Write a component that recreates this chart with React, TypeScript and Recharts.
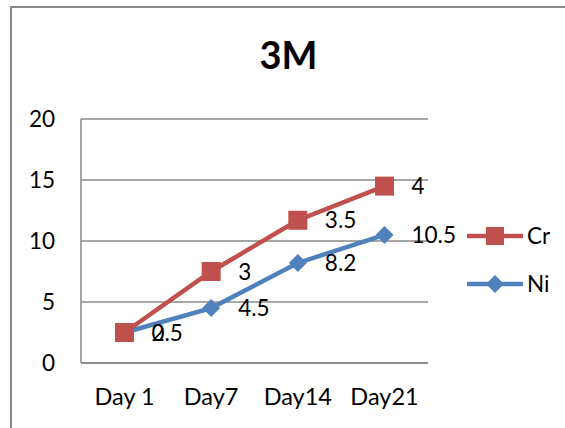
import React from 'react';
import { LineChart, Line, XAxis, YAxis, CartesianGrid, LabelList } from 'recharts';

const categories = ['Day 1', 'Day7', 'Day14', 'Day21'];
const crValues = [2.5, 7.5, 11.7, 14.5];
const niValues = [2.5, 4.5, 8.2, 10.5];
const crLabels = ['0', '3', '3.5', '4'];
const niLabels = ['2.5', '4.5', '8.2', '10.5'];
const yTicks = [0, 5, 10, 15, 20];

const RED = '#C0504D';
const BLUE = '#4F81BD';
const GRID = '#888888';
const FONT = 'Lato, "Open Sans", sans-serif';

const data = categories.map((c, i) => ({ name: c, Cr: crValues[i], Ni: niValues[i], crL: crLabels[i], niL: niLabels[i] }));

const SquareDot = (props: any) => {
  const { cx, cy } = props;
  if (cx == null || cy == null) return null;
  return <rect x={cx - 9.5} y={cy - 9.5} width={19} height={19} fill={RED} />;
};

const DiamondDot = (props: any) => {
  const { cx, cy } = props;
  if (cx == null || cy == null) return null;
  const r = 9;
  return <polygon points={`${cx},${cy - r} ${cx + r},${cy} ${cx},${cy + r} ${cx - r},${cy}`} fill={BLUE} />;
};

const makeLabel = (labels: string[]) => (props: any) => {
  const { x, y, index } = props;
  return (
    <text x={x + 27} y={y} dy="0.36em" fontSize={22.5} fontFamily={FONT} fill="#000">
      {labels[index]}
    </text>
  );
};

const LegendBox = () => (
  <svg width={565} height={428} style={{ position: 'absolute', left: 0, top: 0 }}>
    <line x1={467} y1={236} x2={523} y2={236} stroke={RED} strokeWidth={4.5} />
    <rect x={486} y={227} width={18} height={18} fill={RED} />
    <text x={527} y={236} dy="0.36em" fontSize={22.5} fontFamily={FONT} fill="#000">Cr</text>
    <line x1={467} y1={284} x2={523} y2={284} stroke={BLUE} strokeWidth={4.5} />
    <polygon points="495,275 504,284 495,293 486,284" fill={BLUE} />
    <text x={527} y={284} dy="0.36em" fontSize={22.5} fontFamily={FONT} fill="#000">Ni</text>
  </svg>
);

export default function App() {
  return (
    <div style={{ position: 'absolute', left: 0, top: 0, width: 565, height: 428, overflow: 'hidden', background: '#fff' }}>
      <div style={{ position: 'absolute', left: 10, top: 6, width: 700, height: 600, borderLeft: `2px solid ${GRID}`, borderTop: `2px solid ${GRID}` }} />
      <div style={{ position: 'absolute', left: 0, top: 27, width: 565, textAlign: 'center', fontFamily: FONT, fontWeight: 700, fontSize: 38, lineHeight: '54px', paddingLeft: 12, boxSizing: 'border-box' }}>
        3M
      </div>
      <LegendBox />
      <div style={{ position: 'absolute', left: 0, top: 0 }}>
        <LineChart width={565} height={428} data={data} margin={{ top: 119, right: 137, bottom: 64, left: 80 }}>
          <CartesianGrid vertical={false} stroke={GRID} strokeWidth={1.5} />
          <XAxis
            dataKey="name"
            height={1}
            padding={{ left: 43.5, right: 43.5 }}
            tickLine={false}
            tickSize={0}
            tickMargin={25}
            axisLine={{ stroke: GRID, strokeWidth: 1.5 }}
            tick={{ fontSize: 23.5, fontFamily: FONT, fill: '#000' }}
          />
          <YAxis
            width={1}
            domain={[0, 20]}
            ticks={yTicks}
            tickLine={false}
            tickSize={0}
            tickMargin={26}
            axisLine={{ stroke: GRID, strokeWidth: 1.5 }}
            tick={{ fontSize: 22.5, fontFamily: FONT, fill: '#000' }}
          />
          <Line dataKey="Ni" stroke={BLUE} strokeWidth={4.5} dot={<DiamondDot />} isAnimationActive={false}>
            <LabelList dataKey="niL" content={makeLabel(niLabels)} />
          </Line>
          <Line dataKey="Cr" stroke={RED} strokeWidth={4.5} dot={<SquareDot />} isAnimationActive={false}>
            <LabelList dataKey="crL" content={makeLabel(crLabels)} />
          </Line>
        </LineChart>
      </div>
    </div>
  );
}
